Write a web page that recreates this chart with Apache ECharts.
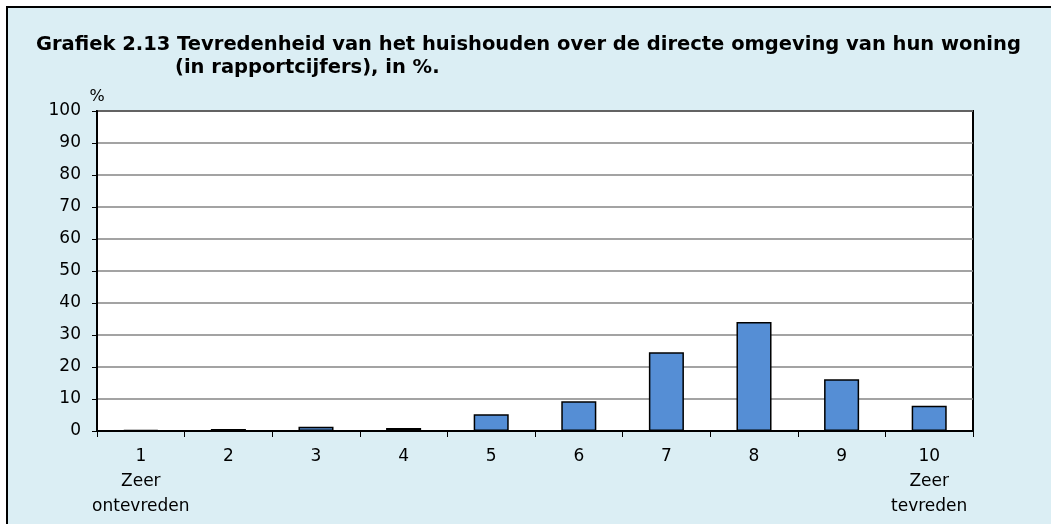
<!DOCTYPE html>
<html>
<head>
<meta charset="utf-8">
<script src="https://cdn.jsdelivr.net/npm/echarts@6/dist/echarts.min.js"></script>
<style>
html,body{margin:0;padding:0;background:#ffffff;width:1051px;height:524px;overflow:hidden;}
#frame{position:absolute;left:6px;top:6px;width:1060px;height:540px;border:2px solid #000;background:#DBEEF4;}
#chart{position:absolute;left:0;top:0;width:1051px;height:524px;}
</style>
</head>
<body>
<div id="frame"></div>
<div id="chart"></div>
<script>
const titleLine1 = 'Grafiek 2.13 Tevredenheid van het huishouden over de directe omgeving van hun woning';
const titleLine2 = '(in rapportcijfers), in %.';
const categories = ['1\nZeer\nontevreden', '2', '3', '4', '5', '6', '7', '8', '9', '10\nZeer\ntevreden'];
const values = [0.3, 0.6, 1.3, 0.9, 5.2, 9.3, 24.6, 34.1, 16.2, 7.9];
const yAxisName = '%';

const chart = echarts.init(document.getElementById('chart'), null, {renderer: 'canvas'});
const font = '"DejaVu Sans", sans-serif';
chart.setOption({
  backgroundColor: 'transparent',
  animation: false,
  textStyle: {fontFamily: font},
  title: [
    {text: titleLine1, left: 31, top: 30, padding: 5, textStyle: {fontFamily: font, fontSize: 19.5, fontWeight: 'bold', color: '#000'}},
    {text: titleLine2, left: 170, top: 53, padding: 5, textStyle: {fontFamily: font, fontSize: 19.5, fontWeight: 'bold', color: '#000'}}
  ],
  grid: {left: 97, right: 78, top: 111, bottom: 93, show: true, borderColor: '#000', borderWidth: 2, backgroundColor: '#fff'},
  xAxis: {
    type: 'category',
    data: categories,
    boundaryGap: true,
    axisLine: {lineStyle: {color: '#000', width: 2}},
    axisTick: {show: true, length: 6, lineStyle: {color: '#000', width: 1}, alignWithLabel: false},
    axisLabel: {color: '#000', fontSize: 17, lineHeight: 25, margin: 13, interval: 0, fontFamily: font}
  },
  yAxis: {
    type: 'value',
    min: 0, max: 100, interval: 10,
    name: yAxisName,
    nameLocation: 'end',
    nameGap: 6,
    nameTextStyle: {color: '#000', fontSize: 16, fontFamily: font, align: 'center'},
    axisLine: {show: true, lineStyle: {color: '#000', width: 2}},
    axisTick: {show: true, length: 5, lineStyle: {color: '#000', width: 1}},
    axisLabel: {color: '#000', fontSize: 17, margin: 16, fontFamily: font},
    splitLine: {show: true, lineStyle: {color: '#858585', width: 1.5}}
  },
  series: [{
    type: 'bar',
    data: values,
    barWidth: '40%',
    itemStyle: {color: '#558ED5', borderColor: '#000', borderWidth: 1.5}
  }]
});
</script>
</body>
</html>
